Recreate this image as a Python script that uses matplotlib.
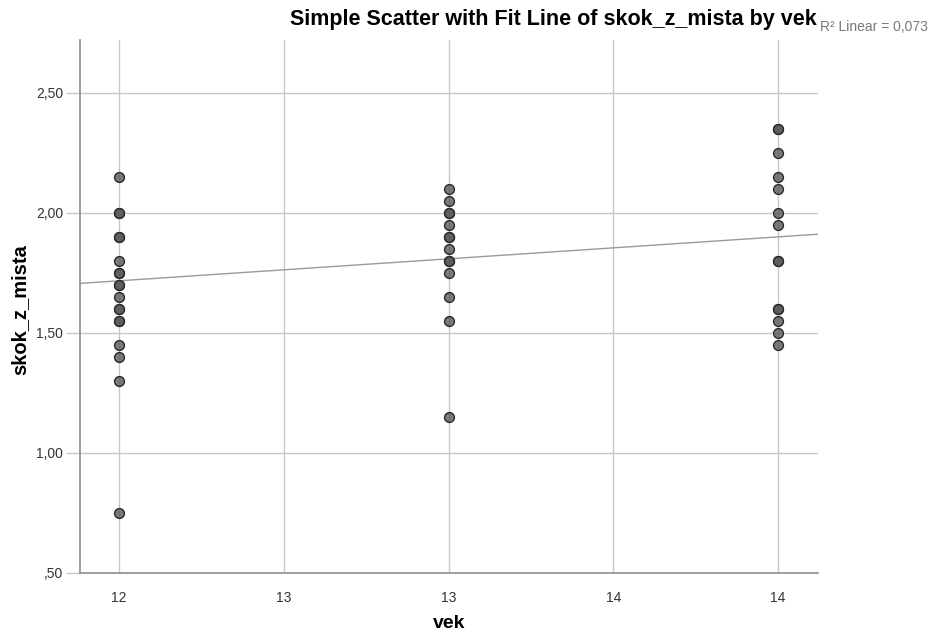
import matplotlib
matplotlib.use("Agg")
import matplotlib.pyplot as plt
import numpy as np

plt.rcParams['font.family'] = ['Liberation Sans', 'DejaVu Sans']

# Jump distance (m) per age group
vek_12 = [2.15, 2.00, 2.00, 1.90, 1.90, 1.80, 1.75, 1.75, 1.70, 1.70, 1.65,
          1.60, 1.60, 1.55, 1.55, 1.45, 1.40, 1.30, 0.75]
vek_13 = [2.10, 2.05, 2.00, 2.00, 1.95, 1.90, 1.90, 1.85, 1.80, 1.80, 1.75,
          1.65, 1.55, 1.15]
vek_14 = [2.35, 2.35, 2.25, 2.15, 2.10, 2.00, 1.95, 1.80, 1.80, 1.60, 1.60,
          1.55, 1.50, 1.45]
ages = [12, 13, 14]

# Linear fit reported by the analysis
fit_intercept = 0.619
fit_slope = 0.0915
r2_linear = 0.073

x_ticks = [12, 12.5, 13, 13.5, 14]
x_tick_labels = ["12", "13", "13", "14", "14"]
y_ticks = [0.5, 1.0, 1.5, 2.0, 2.5]
y_tick_labels = [",50", "1,00", "1,50", "2,00", "2,50"]

fig = plt.figure(figsize=(9.34, 6.35), dpi=100)
ax = fig.add_axes([80 / 934, 1 - 573 / 635, (818 - 80) / 934, (573 - 40) / 635])

xlim = (11.882, 14.121)
ax.set_xlim(*xlim)
ax.set_ylim(0.5, 2.72)

ax.set_xticks(x_ticks)
ax.set_xticklabels(x_tick_labels)
ax.set_yticks(y_ticks)
ax.set_yticklabels(y_tick_labels)

ax.grid(True, color="#c8c8c8", linewidth=1.0)
ax.set_axisbelow(True)

for s in ["top", "right"]:
    ax.spines[s].set_visible(False)
for s in ["left", "bottom"]:
    ax.spines[s].set_color("#8c8c8c")
    ax.spines[s].set_linewidth(1.2)

ax.tick_params(axis="y", colors="#c8c8c8", labelcolor="#333333",
               labelsize=10, length=10, width=1, pad=2)
ax.tick_params(axis="x", colors="#c8c8c8", labelcolor="#333333",
               labelsize=10, length=0, pad=13)

for age, vals in zip(ages, [vek_12, vek_13, vek_14]):
    ax.scatter(np.full(len(vals), age), vals, s=50, facecolor=(0.35, 0.35, 0.35, 0.8),
               edgecolor="#2a2a2a", linewidth=1.0, zorder=3)

xs = np.array(xlim)
ax.plot(xs, fit_intercept + fit_slope * xs, color="#999999", linewidth=1.0, zorder=2)

fig.text(449 / 934, 1 - 624 / 635, "vek", ha="center", va="center",
         fontsize=14, fontweight="bold")
fig.text(20 / 934, 1 - 310 / 635, "skok_z_mista", ha="center", va="center",
         rotation=90, fontsize=14.5, fontweight="bold")

fig.text(553 / 934, 1 - 20 / 635, "Simple Scatter with Fit Line of skok_z_mista by vek",
         ha="center", va="center", fontsize=15.5, fontweight="bold")
fig.text(820 / 934, 1 - 27 / 635, "R² Linear = " + f"{r2_linear:.3f}".replace(".", ","),
         ha="left", va="center", fontsize=10, color="#777777")

fig.savefig("out.png", dpi=100)
